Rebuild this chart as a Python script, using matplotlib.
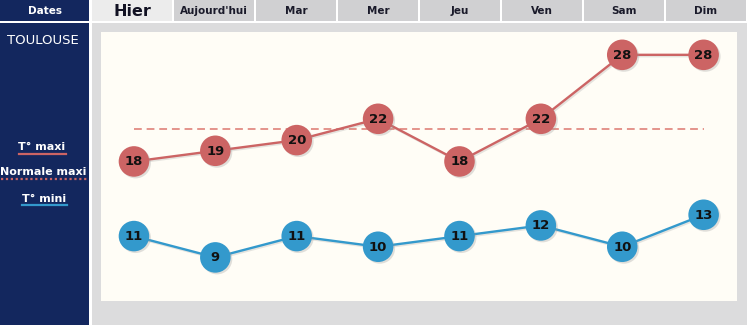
import matplotlib
matplotlib.use("Agg")
import matplotlib.pyplot as plt
import matplotlib.patheffects as pe
from matplotlib.patches import Rectangle
from matplotlib.lines import Line2D

# daily values for the town
ville = "TOULOUSE"
jours = ["Hier", "Aujourd'hui", "Mar", "Mer", "Jeu", "Ven", "Sam", "Dim"]
t_maxi = [18, 19, 20, 22, 18, 22, 28, 28]
t_mini = [11, 9, 11, 10, 11, 12, 10, 13]
normale_maxi = 21

NAVY = "#13275e"
ROUGE = "#cc6464"
BLEU = "#3399cc"
GRIS = "#dcdcdd"
CREME = "#fffdf6"

W, H = 747, 325
fig = plt.figure(figsize=(W / 100, H / 100), dpi=100)
fig.patch.set_facecolor("white")


def px_rect(x0, y0, x1, y1, color):
    # rectangle given in pixel coordinates, origin top-left
    fig.patches.append(Rectangle((x0 / W, 1 - y1 / H), (x1 - x0) / W, (y1 - y0) / H,
                                 transform=fig.transFigure, facecolor=color,
                                 edgecolor="none", zorder=-5))


def px_text(x, y, s, **kw):
    fig.text(x / W, 1 - y / H, s, ha="center", va="center", **kw)


def px_line(x0, x1, y, **kw):
    fig.add_artist(Line2D([x0 / W, x1 / W], [1 - y / H, 1 - y / H],
                          transform=fig.transFigure, **kw))


# left column
px_rect(0, 0, 89, 21, NAVY)
px_rect(0, 23, 89, H, NAVY)
px_text(45, 11, "Dates", color="white", fontsize=7.5, fontweight="bold")
px_text(43, 41, ville, color="white", fontsize=9.5)

# header cells
for i, jour in enumerate(jours):
    x0 = 92 + 82 * i
    x1 = min(x0 + 80, W)
    px_rect(x0, 0, x1, 21, "#ececec" if i == 0 else "#d0d0d2")
    if i == 0:
        px_text((x0 + x1) / 2, 11, jour, color="#111122", fontsize=11.5, fontweight="bold")
    else:
        px_text((x0 + x1) / 2, 11, jour, color="#1a1a2a", fontsize=7.5, fontweight="bold")

# grey background of the graph zone
px_rect(92, 23, W, H, GRIS)

# legend in the left column
px_text(42, 147, "T° maxi", color="white", fontsize=8, fontweight="bold")
px_line(19, 66, 153.5, color=ROUGE, lw=1.6)
px_text(43, 172, "Normale maxi", color="white", fontsize=8, fontweight="bold")
px_line(1, 87, 178.5, color=ROUGE, lw=1.6, linestyle=(0, (1, 1.2)))
px_text(44, 199, "T° mini", color="white", fontsize=8, fontweight="bold")
px_line(22, 67, 205, color=BLEU, lw=1.6)

# chart area
ax = fig.add_axes([101 / W, 1 - 300.7 / H, (737 - 101) / W, (300.7 - 32) / H])
ax.set_zorder(1)
ax.set_facecolor(CREME)
for s in ax.spines.values():
    s.set_visible(False)
ax.set_xticks([])
ax.set_yticks([])
ax.set_xlim(-0.405, 7.41)
ax.set_ylim(4.94, 30.14)

x = list(range(len(jours)))
line_fx = [pe.SimpleLineShadow(offset=(1, -1), shadow_color="#999999", alpha=0.25), pe.Normal()]
mark_fx = [pe.SimplePatchShadow(offset=(1.2, -1.2), shadow_rgbFace="#999999", alpha=0.3), pe.Normal()]

ax.plot([x[0], x[-1]], [normale_maxi, normale_maxi], color="#e4948c", lw=1.4,
        linestyle=(0, (4, 2.5)), zorder=1)

for serie, couleur in [(t_maxi, ROUGE), (t_mini, BLEU)]:
    ax.plot(x, serie, color=couleur, lw=1.7, zorder=2, path_effects=line_fx)
    ax.plot(x, serie, linestyle="none", marker="o", markersize=22,
            markerfacecolor=couleur, markeredgecolor="none", zorder=3,
            path_effects=mark_fx)
    for xi, v in zip(x, serie):
        ax.text(xi, v - 0.05, str(v), ha="center", va="center", fontsize=9.5,
                fontweight="bold", color="#111111", zorder=4)

fig.savefig("out.png", dpi=100, facecolor=fig.get_facecolor())
